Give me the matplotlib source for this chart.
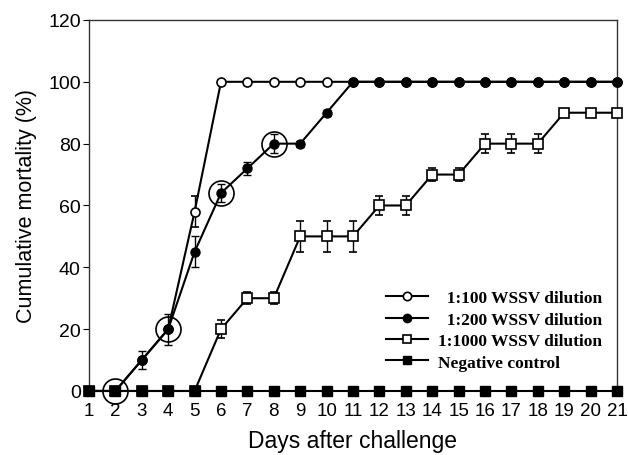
import numpy as np
import matplotlib
matplotlib.use("Agg")
import matplotlib.pyplot as plt
from matplotlib.lines import Line2D

# ===== Data =====
days = np.arange(1, 22)

dil100 = [0, 0, 10, 20, 58, 100, 100, 100, 100, 100, 100,
          100, 100, 100, 100, 100, 100, 100, 100, 100, 100]
dil100_err = [0, 0, 0, 0, 5, 0, 0, 0, 0, 0, 0,
              0, 0, 0, 0, 0, 0, 0, 0, 0, 0]

dil200 = [0, 0, 10, 20, 45, 64, 72, 80, 80, 90, 100,
          100, 100, 100, 100, 100, 100, 100, 100, 100, 100]
dil200_err = [0, 0, 3, 5, 5, 3, 2, 3, 1, 1, 0,
              0, 0, 0, 0, 0, 0, 0, 0, 0, 0]

dil1000 = [0, 0, 0, 0, 0, 20, 30, 30, 50, 50, 50,
           60, 60, 70, 70, 80, 80, 80, 90, 90, 90]
dil1000_err = [0, 0, 0, 0, 0, 3, 2, 2, 5, 5, 5,
               3, 3, 2, 2, 3, 3, 3, 1, 0, 0]

neg_ctrl = [0] * 21

# highlighted points (big open circles)
hl_days = [2, 4, 6, 8]
hl_vals = [0, 20, 64, 80]

labels = ["  1:100 WSSV dilution", "  1:200 WSSV dilution",
          "1:1000 WSSV dilution", "Negative control"]

# ===== Plot =====
plt.rcParams["font.family"] = ["Liberation Sans", "DejaVu Sans"]
fig = plt.figure(figsize=(6.28, 4.56), dpi=100)
ax = fig.add_axes([0.1417, 0.1404, 0.8408, 0.8136])

common = dict(color="black", lw=1.5, ms=6.5, capsize=3, elinewidth=1,
              capthick=1, clip_on=False)
styles = [dict(marker="o", mfc="white", mew=1.2),
          dict(marker="o", mfc="black", mew=1.0),
          dict(marker="s", mfc="white", mew=1.2),
          dict(marker="s", mfc="black", mew=1.0)]

ax.errorbar(days, dil100, yerr=dil100_err, mec="black", zorder=2,
            **styles[0], **common)
ax.errorbar(days, dil1000, yerr=dil1000_err, mec="black", zorder=3,
            **styles[2], **common)
ax.errorbar(days, dil200, yerr=dil200_err, mec="black", zorder=4,
            **styles[1], **common)
ax.plot(days, neg_ctrl, color="black", lw=1.5, ms=6.5, mec="black",
        clip_on=False, zorder=6, **styles[3])

ax.plot(hl_days, hl_vals, ls="none", marker="o", ms=18, mfc="none",
        mec="black", mew=1.2, clip_on=False, zorder=7)

ax.set_xlim(1, 21)
ax.set_ylim(0, 120)
ax.set_xticks(days)
ax.set_yticks(np.arange(0, 121, 20))
ax.tick_params(axis="x", length=0, labelsize=13.5, pad=8)
ax.tick_params(axis="y", length=4, direction="out", labelsize=14, pad=2)
ax.spines["bottom"].set_visible(False)
for s in ["left", "top", "right"]:
    ax.spines[s].set_linewidth(1)
    ax.spines[s].set_color("#333333")

ax.set_xlabel("Days after challenge", fontsize=16.5, labelpad=7)
ax.set_ylabel("Cumulative mortality (%)", fontsize=15.5, labelpad=8)

handles = [Line2D([], [], color="black", lw=1.5, ms=6, mec="black", **st)
           for st in styles]
leg = ax.legend(handles, labels, loc="lower right",
                bbox_to_anchor=(0.972, 0.055), frameon=False,
                prop={"family": "Liberation Serif", "weight": "bold", "size": 12.5},
                handlelength=2.4, handletextpad=0.6, labelspacing=0.3,
                borderpad=0, borderaxespad=0)

fig.savefig("out.png", dpi=100)
